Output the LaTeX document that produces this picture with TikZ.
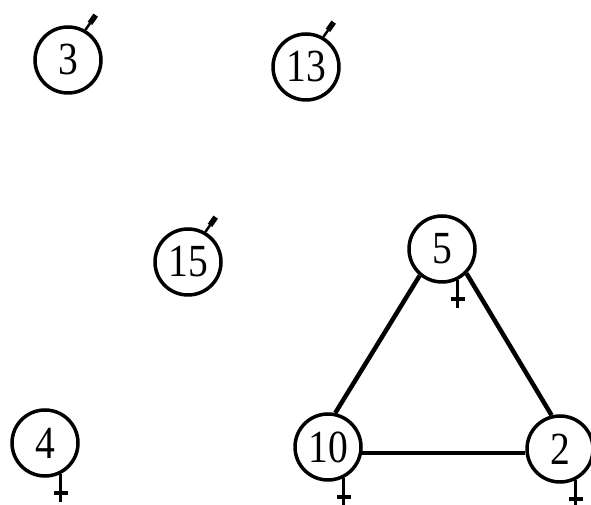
\documentclass[tikz,border=0pt]{standalone}
\usepackage{fontspec}
\setmainfont{Liberation Serif}
\newcommand\dg[1]{\scalebox{0.86}[1]{#1}}
\begin{document}
\begin{tikzpicture}[x=1pt,y=1pt,
  vtx/.style={circle, draw, line width=3.5pt, minimum size=66pt, inner sep=0pt, font=\fontsize{46}{46}\selectfont},
  edge/.style={line width=4.5pt},
  mthin/.style={line width=2.5pt},
  mthick/.style={line width=5.5pt},
  fem/.style={line width=3.2pt}]
\useasboundingbox (0,0) rectangle (591,505);
\fill[white] (0,0) rectangle (591,505);
\node[vtx] (n3)  at (68,445) {\dg{3}};
\node[vtx] (n13) at (306,438) {\dg{13}};
\node[vtx] (n15) at (188,243) {\dg{15}};
\node[vtx] (n5)  at (442,256) {\dg{5}};
\node[vtx] (n4)  at (45,62) {\dg{4}};
\node[vtx] (n10) at (328,58) {\dg{10}};
\node[vtx] (n2)  at (560,56) {\dg{2}};
% edges
\draw[edge] (n5.230) -- (n10.78);
\draw[edge] (n5.-45) -- (n2.104);
\draw[edge] (n10.-10) -- (n10.-10 -| n2.west);
% male markers
\foreach \n in {n3,n13,n15}{
  \draw[mthin] (\n.60) -- ++(55:8) coordinate (\n m);
  \draw[mthick] (\n m) -- ++(55:10);
}
% female markers
\foreach \n in {n5,n4,n10,n2}{
  \draw[fem] (\n.-63) -- ++(0,-28);
  \draw[fem] (\n.-63) ++(-7,-19) -- ++(14,0);
}
\end{tikzpicture}
\end{document}
